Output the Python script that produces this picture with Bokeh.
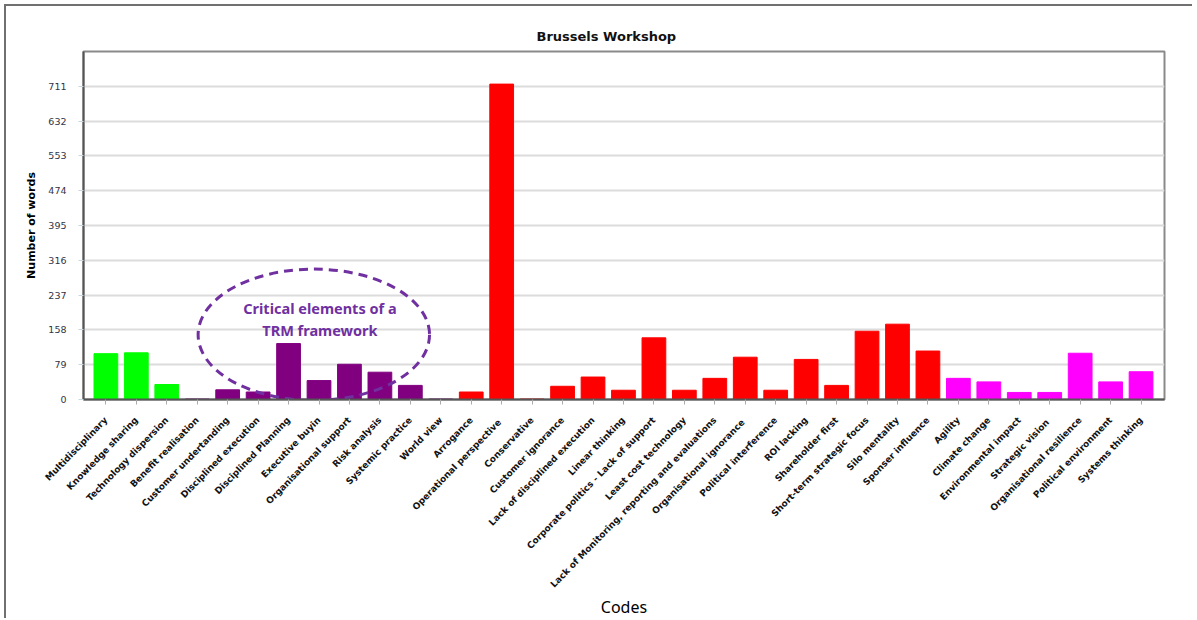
from bokeh.plotting import figure
from bokeh.models import Range1d, FixedTicker, ColumnDataSource
from bokeh.core.properties import value
from bokeh.embed import file_html
from bokeh.resources import INLINE

# ---------------- data ----------------
categories = [
    "Multidisciplinary", "Knowledge sharing", "Technology dispersion",
    "Benefit realisation", "Customer undertanding", "Disciplined execution",
    "Disciplined Planning", "Executive buyin", "Organisational support",
    "Risk analysis", "Systemic practice", "World view",
    "Arrogance", "Operational  perspective", "Conservative", "Customer ignorance",
    "Lack of disciplined execution", "Linear thinking",
    "Corporate politics - Lack of support", "Least cost technology",
    "Lack of Monitoring, reporting and evaluations", "Organisational  ignorance",
    "Political interference", "ROI lacking", "Shareholder first",
    "Short-term strategic focus", "Silo mentality", "Sponser influence",
    "Agility", "Climate change", "Environmental impact", "Strategic  vision",
    "Organisational resilience", "Political environment", "Systems thinking",
]
words = [104, 106, 34,
         1, 22, 17, 127, 43, 80, 62, 32, 1,
         17, 716, 1, 30, 51, 21, 140, 21, 48, 96, 21, 91, 32, 155, 171, 110,
         48, 40, 16, 16, 105, 40, 63]
group = (["green"] * 3 + ["purple"] * 9 + ["red"] * 16 + ["magenta"] * 7)
group_colors = {"green": "#00FF00", "purple": "#800080",
                "red": "#FF0000", "magenta": "#FF00FF"}
y_ticks = [0, 79, 158, 237, 316, 395, 474, 553, 632, 711]
annotation_lines = ["Critical elements of a", "TRM framework"]

# ---------------- figure ----------------
idx = list(range(len(categories)))
src = ColumnDataSource(dict(
    x=idx, top=words, name=categories,
    color=[group_colors[g] for g in group],
))

p = figure(width=1188, height=614, output_backend="svg", toolbar_location=None,
           x_range=Range1d(-0.735, len(categories) - 0.23),
           y_range=Range1d(0, 790),
           min_border_left=77, min_border_right=30, min_border_top=45,
           min_border_bottom=221)
p.styles = {"border-top": "2px solid #707070", "border-left": "2px solid #707070",
            "margin-top": "4px", "margin-left": "4px"}

p.vbar(x="x", top="top", width=0.78, source=src, fill_color="color",
       line_color="color", line_width=1)

# title
p.title.text = "Brussels Workshop"
p.title.align = "left"
p.title.offset = 453
p.title.standoff = 15
p.title.text_font = "DejaVu Sans"
p.title.text_font_size = "13px"
p.title.text_font_style = "bold"
p.title.text_color = "#111111"

# frame
p.outline_line_color = "#8a8a8a"
p.outline_line_width = 2
p.background_fill_color = "white"
p.border_fill_color = "white"

# grid
p.xgrid.grid_line_color = None
p.ygrid.grid_line_color = "#dcdcdc"
p.ygrid.grid_line_width = 2

# y axis
p.yaxis.ticker = FixedTicker(ticks=y_ticks)
p.yaxis.axis_label = "Number of words"
p.yaxis.axis_label_text_font = "DejaVu Sans"
p.yaxis.axis_label_text_font_size = "11px"
p.yaxis.axis_label_text_font_style = "bold"
p.yaxis.axis_label_text_color = "#000000"
p.yaxis.axis_label_standoff = 7
p.yaxis.major_label_text_font = "DejaVu Sans"
p.yaxis.major_label_text_font_size = "9.5px"
p.yaxis.major_label_text_color = "#333344"
p.yaxis.major_label_standoff = 12
p.yaxis.axis_line_color = "#555555"
p.yaxis.axis_line_width = 2
p.yaxis.major_tick_line_color = "#c8d8e0"
p.yaxis.major_tick_out = 5
p.yaxis.major_tick_in = 0
p.yaxis.minor_tick_line_color = None

# x axis
p.xaxis.ticker = FixedTicker(ticks=idx)
p.xaxis.major_label_overrides = {i: c for i, c in zip(idx, categories)}
p.xaxis.major_label_orientation = 0.80
p.xaxis.major_label_text_font = "DejaVu Sans"
p.xaxis.major_label_text_font_size = "9px"
p.xaxis.major_label_text_font_style = "bold"
p.xaxis.major_label_text_color = "#111111"
p.xaxis.major_label_standoff = 14
p.xaxis.axis_label = "Codes"
p.xaxis.axis_label_text_font = "Noto Sans"
p.xaxis.axis_label_text_font_size = "16px"
p.xaxis.axis_label_text_font_style = "normal"
p.xaxis.axis_label_text_color = "#000000"
p.xaxis.axis_label_standoff = 0
p.xaxis.axis_line_color = "#555555"
p.xaxis.axis_line_width = 2
p.xaxis.major_tick_line_color = "#aaaaaa"
p.xaxis.major_tick_out = 5
p.xaxis.major_tick_in = 0
p.xaxis.minor_tick_line_color = None

# annotation: dashed ellipse with caption
p.ellipse(x=[6.83], y=[147], width=[7.6], height=[298],
          fill_color=None, line_color="#7030A0", line_width=3,
          line_dash="9 6")
p.text(x=[7.03, 7.03], y=[208, 157], text=annotation_lines,
       text_font=value("Noto Sans"), text_font_style="bold",
       text_font_size="14.5px", text_color="#7030A0",
       text_align="center", text_baseline="middle")

open("out.html", "w").write(file_html(p, INLINE))
